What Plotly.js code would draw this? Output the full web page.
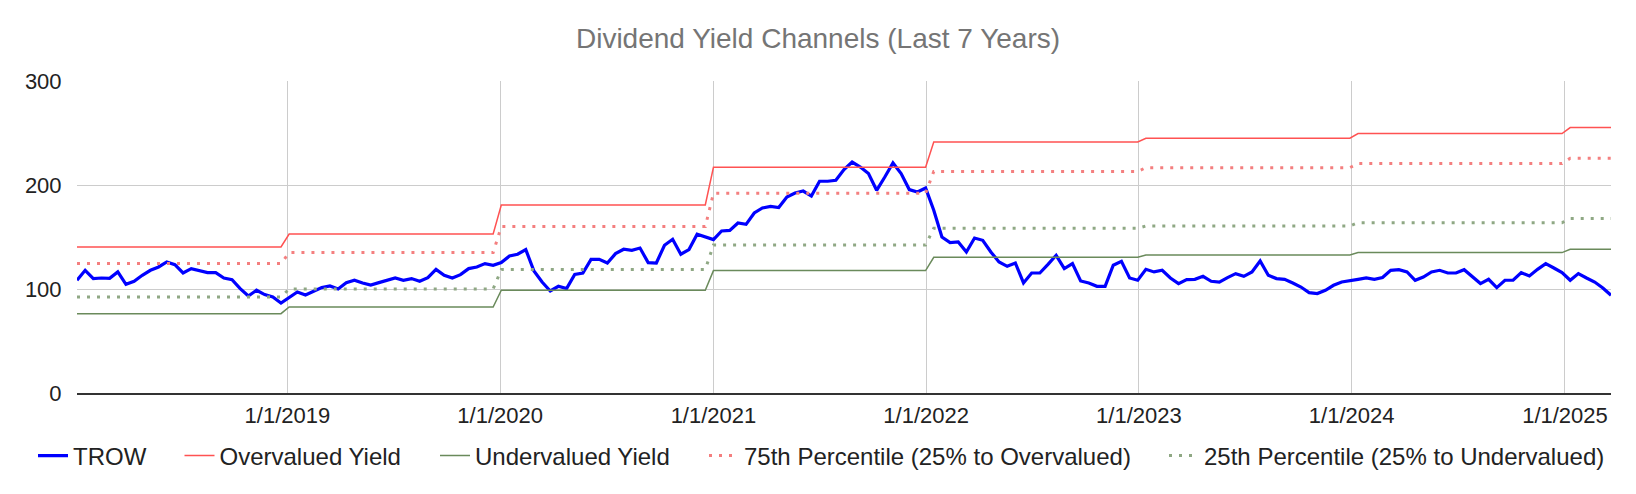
<!DOCTYPE html>
<html>
<head>
<meta charset="utf-8">
<script src="https://cdn.plot.ly/plotly-3.0.1.min.js"></script>
<style>
html,body{margin:0;padding:0;background:#fff;}
#chart{width:1636px;height:494px;}
</style>
</head>
<body>
<div id="chart"></div>
<script>
// ---- Data ----
const startDate = '2018-01-05';   // first observation
const stepDays = 14;              // bi-weekly observations

const trow = [
108.4,118,110,110.6,110.3,116.4,104.5,107.4,113.2,118,121.2,126,123.4,115.4,119.6,117.3,115.7,115.7,110.6,109,100.4,93.3,98.8,94.6,92.3,86.5,91.7,97.1,94.2,98.1,101.3,102.9,100,
106.1,108.4,105.8,103.8,106.1,108.4,110.6,108.4,110,107.4,110.9,118.9,113.2,110.6,113.8,119.6,121.2,124.4,122.8,125.4,131.7,133.4,137.9,117.3,106.7,98.1,102.6,100.4,114.1,115.4,128.5,128.6,
125,134,138.2,137.2,139.4,125.4,125,142,147.8,133.4,137.9,152.6,150,147.5,155.8,156.4,163.5,162.2,173.1,177.9,179.5,178.3,188.5,192.3,194.2,189.4,203.6,203.6,204.5,214.8,222.1,217.3,
211,194.9,207.7,221.2,211,195.6,193.3,197.1,175.7,150,144.6,145.2,135.6,149,146.8,135.6,126,121.8,125,105.8,115.4,115.4,123.7,132.4,119.6,124.4,107.7,105.8,102.6,102.6,122.8,126.6,
110.6,108.4,118.9,116.4,118,110.6,105.2,109,109.3,112.2,107.4,106.7,111,114.8,112.2,116.4,126.9,113.2,110,109.3,105.8,101.9,96.5,95.6,98.8,103.6,106.7,107.7,109.3,110.6,109.2,
111,118,118.6,116.4,108.4,111.5,116.4,118,115.4,115.4,118.6,111.5,105.2,109.3,101.3,108.4,108.4,115.7,112.5,118.9,124.4,120.2,115.7,108.4,114.8,110.6,106.7,101,94
];

// yearly channel levels
const years       = [2018, 2019, 2020, 2021, 2022, 2023, 2024, 2025];
const overvalued  = [140.4, 152.9, 180.8, 217.0, 241.3, 245.0, 249.4, 255.2];
const pct75       = [124.4, 135.0, 160.0, 192.0, 213.0, 216.7, 220.6, 225.7];
const pct25       = [92.3, 100.0, 118.7, 142.3, 158.4, 160.6, 163.8, 167.7];
const undervalued = [76.3, 82.7, 98.8, 117.7, 130.5, 132.7, 135.0, 138.2];

const tickVals  = ['2019-01-01','2020-01-01','2021-01-01','2022-01-01','2023-01-01','2024-01-01','2025-01-01'];
const tickText  = ['1/1/2019','1/1/2020','1/1/2021','1/1/2022','1/1/2023','1/1/2024','1/1/2025'];
const seriesNames = ['TROW','Overvalued Yield','Undervalued Yield','75th Percentile (25% to Overvalued)','25th Percentile (25% to Undervalued)'];

// ---- build dates ----
function iso(d){return d.toISOString().slice(0,10);}
const dates = [];
const d0 = new Date(startDate + 'T00:00:00Z');
for (let i = 0; i < trow.length; i++) {
  dates.push(iso(new Date(d0.getTime() + i*stepDays*86400000)));
}
function byYear(levels){
  return dates.map(d => levels[years.indexOf(parseInt(d.slice(0,4),10))]);
}

const font = 'Arial, "Liberation Sans", sans-serif';
const traces = [
  {x: dates, y: trow, name: seriesNames[0], type:'scatter', mode:'lines', legend:'legend',
   line:{color:'#0000ff', width:3.2}},
  {x: dates, y: byYear(overvalued), name: seriesNames[1], type:'scatter', mode:'lines', legend:'legend2',
   line:{color:'#ff5252', width:1.5}},
  {x: dates, y: byYear(undervalued), name: seriesNames[2], type:'scatter', mode:'lines', legend:'legend3',
   line:{color:'#6a8a5b', width:1.5}},
  {x: dates, y: byYear(pct75), name: seriesNames[3], type:'scatter', mode:'lines', legend:'legend4',
   line:{color:'#f47f7f', width:3, dash:'3px,7px'}},
  {x: dates, y: byYear(pct25), name: seriesNames[4], type:'scatter', mode:'lines', legend:'legend5',
   line:{color:'#8fa884', width:3, dash:'3px,7px'}}
];

function leg(px){
  return {orientation:'h', x:px/1636, xref:'container', xanchor:'left',
          y:1-456/494, yref:'container', yanchor:'middle',
          font:{family:font, size:24, color:'#222222'}, itemwidth:30,
          bgcolor:'rgba(0,0,0,0)', borderwidth:0};
}

const layout = {
  width:1636, height:494,
  margin:{l:77, r:25, t:81, b:101, pad:0},
  paper_bgcolor:'#ffffff', plot_bgcolor:'#ffffff',
  font:{family:font, size:22, color:'#222222'},
  title:{text:'Dividend Yield Channels (Last 7 Years)', x:0.5, xanchor:'center',
         y:1-38.6/494, yref:'container', yanchor:'middle',
         font:{family:font, size:28, color:'#757575'}},
  xaxis:{type:'date', range:[dates[0], dates[dates.length-1]],
         tickmode:'array', tickvals:tickVals, ticktext:tickText,
         showgrid:true, gridcolor:'#cccccc', gridwidth:1,
         showline:true, linecolor:'#333333', linewidth:1.5,
         ticks:'outside', ticklen:2, tickcolor:'rgba(0,0,0,0)',
         tickfont:{family:font, size:22, color:'#222222'},
         zeroline:false, fixedrange:true},
  yaxis:{range:[0,300], tickvals:[0,100,200,300], ticktext:['0','100','200','300'],
         showgrid:true, gridcolor:'#cccccc', gridwidth:1,
         ticks:'outside', ticklen:10, tickcolor:'rgba(0,0,0,0)',
         tickfont:{family:font, size:22, color:'#222222'},
         zeroline:false, showline:false, fixedrange:true},
  showlegend:true,
  legend: leg(33),
  legend2: leg(179.5),
  legend3: leg(435),
  legend4: leg(704),
  legend5: leg(1164),
  hovermode:false
};

Plotly.newPlot('chart', traces, layout, {displayModeBar:false, staticPlot:true});
</script>
</body>
</html>
